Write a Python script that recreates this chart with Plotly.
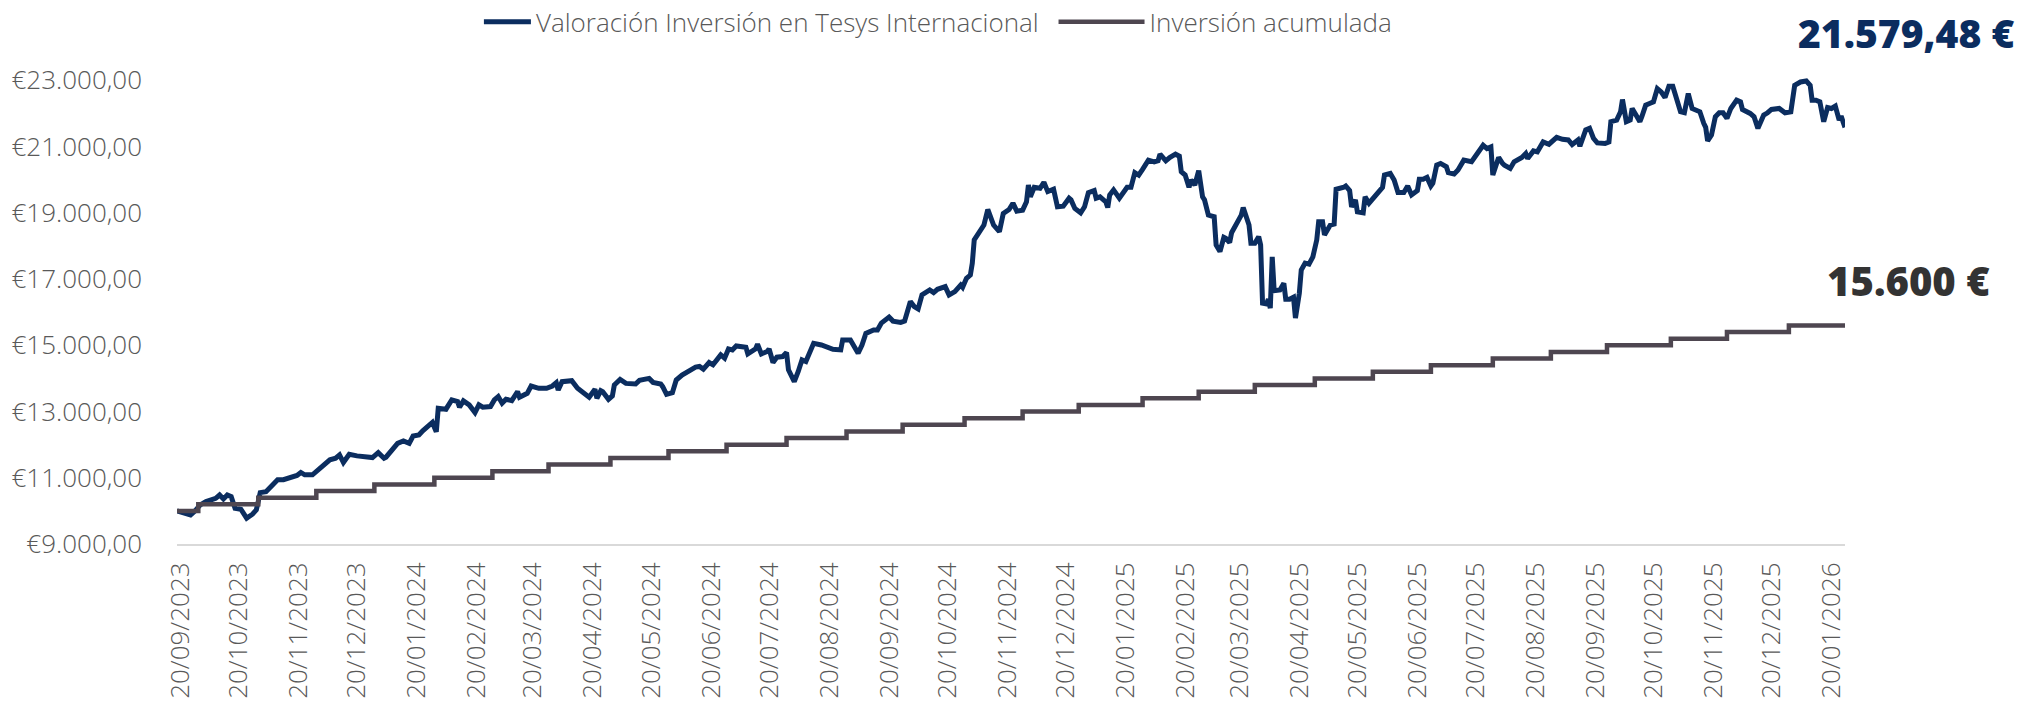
import pandas as pd
import plotly.graph_objects as go

# ---------------- data ----------------
start_date = "2023-09-18"
end_date = "2026-01-27"

# days elapsed since start_date for each valuation reading
val_days = [0, 3, 7, 9, 12, 15, 18, 20, 22, 24, 26, 28, 30, 33, 36, 39, 41, 43, 46, 49,
            52, 55, 58, 62, 64, 66, 70, 74, 76, 79, 82, 84, 86, 88, 89, 93, 96, 101, 104, 107,
            108, 111, 114, 117, 120, 122, 125, 127, 131, 132, 134, 135, 139, 142, 145, 146, 148, 151, 154, 156,
            158, 162, 164, 166, 168, 170, 173, 176, 177, 181, 183, 187, 191, 194, 196, 197, 199, 204, 207, 212,
            213, 216, 217, 219, 220, 223, 225, 226, 229, 232, 237, 239, 244, 246, 250, 251, 253, 256, 258, 261,
            265, 268, 270, 272, 275, 277, 281, 283, 285, 287, 289, 294, 295, 299, 300, 302, 305, 306, 308, 310,
            313, 315, 316, 319, 321, 323, 325, 327, 329, 333, 336, 339, 343, 344, 348, 350, 352, 354, 356, 360,
            362, 364, 368, 370, 374, 376, 378, 379, 381, 383, 385, 389, 391, 393, 397, 399, 402, 405, 406, 408,
            410, 411, 412, 415, 417, 419, 422, 425, 427, 430, 432, 434, 437, 439, 440, 441, 443, 446, 448, 450,
            453, 455, 458, 461, 462, 464, 467, 469, 471, 474, 475, 477, 480, 481, 482, 484, 487, 491, 493, 495,
            497, 499, 502, 505, 507, 508, 511, 513, 516, 518, 519, 521, 523, 524, 526, 528, 530, 531, 533, 536,
            537, 539, 541, 542, 544, 545, 547, 548, 550, 551, 553, 554, 555, 557, 559, 560, 561, 563, 564, 565,
            566, 567, 570, 572, 573, 575, 577, 578, 580, 581, 583, 585, 587, 589, 590, 592, 593, 595, 596, 598,
            599, 603, 604, 606, 607, 609, 610, 613, 614, 616, 618, 621, 623, 624, 627, 629, 631, 634, 635, 636,
            638, 641, 642, 644, 646, 648, 649, 651, 653, 656, 657, 660, 662, 665, 669, 672, 675, 677, 679, 680,
            683, 685, 686, 689, 691, 695, 697, 698, 701, 703, 706, 709, 713, 716, 719, 721, 724, 725, 728, 730,
            732, 734, 738, 740, 741, 744, 746, 747, 749, 751, 752, 754, 756, 757, 759, 761, 763, 765, 767, 769,
            771, 773, 775, 777, 779, 781, 783, 785, 787, 789, 790, 791, 793, 795, 797, 799, 801, 803, 806, 808,
            809, 813, 815, 817, 820, 822, 824, 828, 831, 834, 836, 839, 842, 844, 845, 847, 849, 851, 853, 855,
            857, 859, 860, 862]

valoracion = [10000, 9960, 9880, 9980, 10180, 10280, 10360, 10380, 10480, 10360, 10480, 10430, 10080, 10050, 9780, 9900, 10030, 10550, 10580, 10760,
              10940, 10940, 11010, 11070, 11160, 11090, 11090, 11290, 11390, 11540, 11590, 11690, 11460, 11620, 11710, 11660, 11640, 11610, 11760, 11590,
              11620, 11860, 12040, 12110, 12040, 12260, 12290, 12420, 12600, 12670, 12390, 13100, 13070, 13350, 13300, 13130, 13320, 13200, 12970, 13200,
              13130, 13150, 13350, 13450, 13250, 13370, 13330, 13600, 13430, 13550, 13770, 13700, 13700, 13770, 13870, 13650, 13900, 13930, 13700, 13450,
              13430, 13670, 13400, 13630, 13600, 13370, 13470, 13800, 13970, 13850, 13830, 13940, 14000, 13880, 13830, 13750, 13520, 13570, 13950, 14100,
              14260, 14340, 14360, 14280, 14480, 14410, 14710, 14610, 14890, 14860, 14980, 14940, 14740, 14890, 15030, 14740, 14810, 14890, 14480, 14640,
              14660, 14780, 14260, 13900, 14200, 14560, 14510, 14760, 15060, 15010, 14960, 14880, 14860, 15160, 15160, 14960, 14760, 15010, 15360, 15460,
              15460, 15670, 15850, 15730, 15690, 15730, 16070, 16320, 16170, 16100, 16520, 16670, 16590, 16690, 16770, 16520, 16620, 16820, 16750, 17020,
              17120, 17480, 18180, 18480, 18630, 19100, 18630, 18430, 18980, 19100, 19290, 19050, 19080, 19330, 19840, 19480, 19770, 19740, 19920, 19640,
              19710, 19180, 19200, 19440, 19390, 19130, 19000, 19180, 19610, 19670, 19440, 19480, 19330, 19160, 19540, 19690, 19440, 19770, 19770, 20210,
              20140, 20310, 20590, 20540, 20570, 20770, 20570, 20670, 20770, 20710, 20240, 20140, 19770, 19990, 19840, 20270, 19480, 19390, 18930, 18880,
              18030, 17830, 18260, 18230, 18100, 18400, 18600, 18660, 18930, 19160, 18830, 18630, 18080, 18080, 18280, 18030, 16270, 16250, 16390, 16120,
              17670, 16650, 16670, 16870, 16390, 16390, 16450, 15820, 16570, 17270, 17480, 17450, 17670, 18180, 18730, 18730, 18330, 18530, 18630, 18660,
              19710, 19770, 19810, 19670, 19180, 19390, 19030, 19000, 19480, 19290, 19440, 19640, 19770, 20140, 20190, 19990, 19610, 19610, 19740, 19810,
              19540, 19670, 20010, 20010, 20070, 19810, 19890, 20440, 20490, 20390, 20210, 20170, 20290, 20590, 20540, 20810, 21040, 20940, 20990, 20140,
              20670, 20490, 20440, 20340, 20540, 20670, 20790, 20640, 20870, 20840, 21140, 21070, 21280, 21220, 21200, 21060, 21200, 21010, 21500, 21550,
              21250, 21110, 21090, 21140, 21750, 21800, 22050, 22420, 21750, 21800, 22150, 21950, 21750, 21900, 22250, 22300, 22350, 22750, 22650, 22480,
              22820, 22820, 22400, 22050, 22020, 22600, 22150, 22080, 22050, 21700, 21580, 21170, 21350, 21900, 22020, 22020, 21850, 22150, 22400, 22350,
              22120, 22000, 21900, 21550, 21950, 22020, 22120, 22150, 22020, 22050, 22850, 22950, 22980, 22850, 22400, 22400, 22350, 21750, 22180, 22150,
              22220, 21800, 21920, 21579.48]

# accumulated investment: monthly contributions of 200 EUR
inv_dates = ["2023-09-18", "2023-09-29", "2023-10-30", "2023-11-29", "2023-12-29", "2024-01-29",
             "2024-02-28", "2024-03-28", "2024-04-29", "2024-05-29", "2024-06-28", "2024-07-29",
             "2024-08-29", "2024-09-27", "2024-10-29", "2024-11-28", "2024-12-27", "2025-01-29",
             "2025-02-27", "2025-03-28", "2025-04-28", "2025-05-28", "2025-06-27", "2025-07-29",
             "2025-08-28", "2025-09-26", "2025-10-29", "2025-11-27", "2025-12-29", "2026-01-27"]
inversion = [10000, 10200, 10400, 10600, 10800, 11000, 11200, 11400, 11600, 11800, 12000, 12200,
             12400, 12600, 12800, 13000, 13200, 13400, 13600, 13800, 14000, 14200, 14400, 14600,
             14800, 15000, 15200, 15400, 15600, 15600]

x_tick_dates = ["2023-09-20", "2023-10-20", "2023-11-20", "2023-12-20", "2024-01-20", "2024-02-20",
                "2024-03-20", "2024-04-20", "2024-05-20", "2024-06-20", "2024-07-20", "2024-08-20",
                "2024-09-20", "2024-10-20", "2024-11-20", "2024-12-20", "2025-01-20", "2025-02-20",
                "2025-03-20", "2025-04-20", "2025-05-20", "2025-06-20", "2025-07-20", "2025-08-20",
                "2025-09-20", "2025-10-20", "2025-11-20", "2025-12-20", "2026-01-20"]
x_tick_labels = ["20/09/2023", "20/10/2023", "20/11/2023", "20/12/2023", "20/01/2024", "20/02/2024",
                 "20/03/2024", "20/04/2024", "20/05/2024", "20/06/2024", "20/07/2024", "20/08/2024",
                 "20/09/2024", "20/10/2024", "20/11/2024", "20/12/2024", "20/01/2025", "20/02/2025",
                 "20/03/2025", "20/04/2025", "20/05/2025", "20/06/2025", "20/07/2025", "20/08/2025",
                 "20/09/2025", "20/10/2025", "20/11/2025", "20/12/2025", "20/01/2026"]

y_tick_values = [9000, 11000, 13000, 15000, 17000, 19000, 21000, 23000]
y_tick_labels = ["€9.000,00", "€11.000,00", "€13.000,00", "€15.000,00", "€17.000,00",
                 "€19.000,00", "€21.000,00", "€23.000,00"]

series_names = ["Valoración Inversión en Tesys Internacional", "Inversión acumulada"]
final_value_label = "21.579,48 €"
final_invest_label = "15.600 €"

# ---------------- figure ----------------
NAVY = "#0B2D5F"
PLUM = "#4E4650"
GREY = "#595959"
FONT = "Open Sans"

val_dates = pd.Timestamp(start_date) + pd.to_timedelta(val_days, unit="D")

fig = go.Figure()
fig.add_trace(go.Scatter(
    x=val_dates, y=valoracion, mode="lines", name=series_names[0], legend="legend",
    line=dict(color=NAVY, width=5), hoverinfo="x+y"))
fig.add_trace(go.Scatter(
    x=pd.to_datetime(inv_dates), y=inversion, mode="lines", name=series_names[1], legend="legend2",
    line=dict(color=PLUM, width=4.5, shape="hv"), hoverinfo="x+y"))

fig.add_annotation(text=final_value_label, xref="paper", yref="paper",
                   x=1.1025, y=1.0953, xanchor="right", yanchor="middle", showarrow=False,
                   font=dict(family=FONT, size=39, color=NAVY, weight=800))
fig.add_annotation(text=final_invest_label, xref="paper", yref="paper",
                   x=1.0884, y=0.5646, xanchor="right", yanchor="middle", showarrow=False,
                   font=dict(family=FONT, size=40, color="#333333", weight=800))

legend_font = dict(family=FONT, size=26, color=GREY, weight=300)

fig.update_layout(
    width=2027, height=702,
    margin=dict(l=177, r=182, t=77, b=158, autoexpand=False),
    paper_bgcolor="white", plot_bgcolor="white",
    font=dict(family=FONT, color=GREY, weight=300),
    showlegend=True,
    legend=dict(orientation="h", x=0.181, xanchor="left", y=1.118, yanchor="middle",
                font=legend_font, bgcolor="rgba(0,0,0,0)", itemwidth=47),
    legend2=dict(orientation="h", x=0.5255, xanchor="left", y=1.118, yanchor="middle",
                 font=legend_font, bgcolor="rgba(0,0,0,0)", itemwidth=86),
    xaxis=dict(type="date", range=[start_date, end_date],
               tickmode="array", tickvals=x_tick_dates, ticktext=x_tick_labels,
               tickangle=-90, tickfont=dict(family=FONT, size=26, color=GREY, weight=300),
               showgrid=False, zeroline=False, showline=True, linecolor="#D9D9D9", linewidth=2,
               ticks="", ticklabelstandoff=6),
    yaxis=dict(range=[9000, 23100], tickmode="array", tickvals=y_tick_values, ticktext=y_tick_labels,
               tickfont=dict(family=FONT, size=26, color=GREY, weight=300),
               showgrid=False, zeroline=False, showline=False, ticks="", ticklabelstandoff=34),
)

fig.write_html("out.html", config={"displayModeBar": False},
               post_script="document.body.style.margin='0';document.body.style.overflow='hidden';")
